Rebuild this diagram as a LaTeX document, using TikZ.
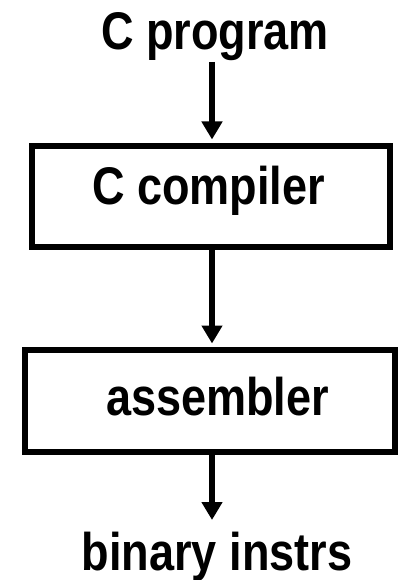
\documentclass[tikz,border=0pt]{standalone}
\usepackage{fontspec}
\setmainfont{Liberation Sans}[FakeStretch=0.85]
\usetikzlibrary{arrows.meta}
\tikzset{
  box/.style={draw, line width=6.5pt, inner sep=0pt},
  lbl/.style={inner sep=0pt, anchor=base, font=\fontsize{53}{60}\selectfont\bfseries},
  arr/.style={line width=6.5pt, -{Triangle[length=18pt,width=20pt]}},
}
\begin{document}
\begin{tikzpicture}[x=1pt,y=-1pt]
\useasboundingbox (0,0) rectangle (402,580);
\node[box, minimum width=358pt, minimum height=101pt] (cc) at (211,196.5) {};
\node[box, minimum width=370pt, minimum height=102pt] (as) at (210,401) {};
\node[lbl] (cp) at (215,50) {C program};
\node[lbl] (cct) at (208.5,204) {C compiler};
\node[lbl] (ast) at (217.5,415) {assembler};
\node[lbl] (bi) at (217,570) {binary instrs};
\coordinate (cpb) at (212,62);
\coordinate (bit) at (212,520);
\draw[arr, shorten >=3.25pt] (cpb) -- (cpb |- cc.north);
\draw[arr, shorten >=3.25pt] (cc.south -| cpb) -- (cpb |- as.north);
\draw[arr] (as.south -| cpb) -- (bit);
\end{tikzpicture}
\end{document}
